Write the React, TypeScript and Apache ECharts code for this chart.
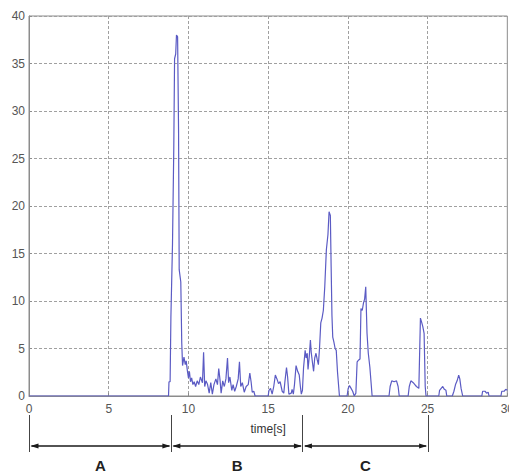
import React, { useEffect, useRef } from "react";
import * as echarts from "echarts";

const times: number[] = [
  0, 8.75, 8.78, 8.85, 8.9, 9.0, 9.08, 9.13, 9.2, 9.25, 9.32, 9.38, 9.42, 9.52, 9.58, 9.63, 9.72, 9.8, 9.86, 9.93,
  10.0, 10.06, 10.13, 10.2, 10.28, 10.36, 10.45, 10.55, 10.65, 10.75, 10.88, 10.95, 11.02, 11.1, 11.2, 11.3, 11.4, 11.5, 11.6, 11.72,
  11.82, 11.9, 11.98, 12.05, 12.15, 12.25, 12.35, 12.45, 12.52, 12.6, 12.72, 12.8, 12.9, 13.0, 13.12, 13.2, 13.28, 13.38, 13.5, 13.62,
  13.75, 13.85, 13.93, 14.0, 14.1, 14.18, 15.0, 15.05, 15.15, 15.25, 15.35, 15.45, 15.55, 15.65, 15.75, 15.88, 15.98, 16.05, 16.15, 16.22,
  16.3, 16.45, 16.5, 16.58, 16.65, 16.75, 16.85, 16.95, 17.02, 17.08, 17.15, 17.22, 17.32, 17.38, 17.45, 17.5, 17.58, 17.65, 17.7, 17.78,
  17.85, 17.92, 18.0, 18.08, 18.15, 18.22, 18.3, 18.38, 18.46, 18.55, 18.65, 18.75, 18.82, 18.9, 18.95, 19.0, 19.05, 19.12, 19.2, 19.27,
  19.35, 19.47, 19.95, 20.02, 20.1, 20.2, 20.3, 20.4, 20.5, 20.58, 20.68, 20.76, 20.82, 20.9, 20.98, 21.05, 21.12, 21.2, 21.28, 21.38,
  21.45, 21.52, 22.58, 22.65, 22.75, 22.9, 23.05, 23.15, 23.22, 23.78, 23.85, 23.95, 24.1, 24.2, 24.3, 24.45, 24.55, 24.62, 24.7, 24.78,
  24.85, 24.9, 25.7, 25.75, 25.85, 25.95, 26.05, 26.15, 26.2, 26.55, 26.65, 26.75, 26.85, 26.95, 27.02, 27.1, 27.2, 28.4, 28.45, 28.6,
  28.7, 28.8, 28.85, 29.6, 29.65, 29.8, 29.9, 30,
];

const values: number[] = [
  0, 0, 1.5, 1.5, 8.3, 16, 26, 35.5, 36, 38, 37.8, 28, 13.3, 12, 5.6, 3.2, 4.1, 3.3, 3.7, 2.7,
  1.9, 2.6, 1.5, 1.9, 1.2, 1.5, 1.0, 1.6, 1.2, 2.0, 1.4, 4.6, 1.0, 1.6, 1.2, 0.3, 1.4, 0.2, 1.2, 1.8,
  1.2, 2.9, 1.7, 0.3, 1.6, 1.0, 1.8, 4.0, 1.4, 2.0, 0.6, 1.2, 0.5, 1.0, 1.8, 3.6, 1.0, 1.4, 0.4, 1.0,
  1.2, 2.4, 1.5, 0.4, 0.5, 0, 0, 0.6, 0.8, 0.2, 1.0, 2.2, 1.8, 1.3, 1.5, 0.5, 0.3, 1.5, 3.0, 2.0,
  0.2, 0.3, 0.7, 0.2, 1.2, 3.2, 2.6, 2.2, 1.0, 0.2, 0.6, 3.0, 4.8, 4.0, 4.5, 2.8, 4.2, 5.9, 4.6, 3.5,
  2.6, 4.0, 4.5, 3.8, 3.3, 5.0, 7.7, 8.2, 9.0, 11.5, 15.4, 17.0, 19.4, 19.0, 13.6, 8.5, 6.2, 5.7, 5.0, 4.8,
  2.5, 0, 0, 0.8, 1.1, 0.8, 0.5, 0, 0.3, 3.6, 3.8, 3.9, 9.2, 9.0, 9.8, 10.2, 11.5, 6.6, 4.5, 3.0,
  1.5, 0, 0, 1.0, 1.6, 1.5, 1.6, 1.0, 0, 0, 1.0, 1.6, 1.4, 1.2, 1.0, 0.8, 8.2, 7.8, 7.3, 6.6,
  1.0, 0, 0, 0.6, 0.8, 1.0, 0.7, 0.6, 0, 0, 0.5, 1.2, 1.6, 2.2, 1.8, 0.8, 0, 0, 0.5, 0.5,
  0.3, 0.4, 0, 0, 0.5, 0.5, 0.7, 0.6,
];

const xTicks = [0, 5, 10, 15, 20, 25, 30];
const yTicks = [0, 5, 10, 15, 20, 25, 30, 35, 40];

const phaseBounds: number[] = [0, 8.9, 17.15, 25];
const phaseLabels: string[] = ["A", "B", "C"];
const xAxisTitle = "time[s]";

export default function App() {
  const ref = useRef<HTMLDivElement>(null);

  useEffect(() => {
    if (!ref.current) return;
    const chart = echarts.init(ref.current, undefined, { renderer: "svg" });
    const font = "'Liberation Sans', Arial, sans-serif";
    const gridColor = "#a0a0a0";
    chart.setOption({
      animation: false,
      backgroundColor: "#ffffff",
      grid: {
        left: 29,
        right: 6,
        top: 16,
        bottom: 76,
        show: true,
        borderColor: "#8c8c8c",
        borderWidth: 1,
      },
      xAxis: {
        type: "value",
        min: xTicks[0],
        max: xTicks[xTicks.length - 1],
        interval: 5,
        name: xAxisTitle,
        nameLocation: "middle",
        nameGap: 27,
        nameTextStyle: { fontFamily: font, fontSize: 12, color: "#333" },
        axisLine: { show: true, lineStyle: { color: "#8c8c8c" } },
        axisTick: { show: true, inside: true, length: 3, lineStyle: { color: "#8c8c8c" } },
        axisLabel: { fontFamily: font, fontSize: 12, color: "#555", margin: 7 },
        splitLine: { show: true, lineStyle: { color: gridColor, type: [3, 2], width: 1 } },
      },
      yAxis: {
        type: "value",
        min: yTicks[0],
        max: yTicks[yTicks.length - 1],
        interval: 5,
        axisLine: { show: true, lineStyle: { color: "#8c8c8c" } },
        axisTick: { show: true, inside: true, length: 3, lineStyle: { color: "#8c8c8c" } },
        axisLabel: { fontFamily: font, fontSize: 12, color: "#555", margin: 4 },
        splitLine: { show: true, lineStyle: { color: gridColor, type: [3, 2], width: 1 } },
      },
      series: [
        {
          type: "line",
          data: times.map((t, i) => [t, values[i]]),
          showSymbol: false,
          symbol: "none",
          lineStyle: { color: "#5b5bc4", width: 1.2 },
          clip: true,
        },
      ],
    });

    const px = (t: number) => chart.convertToPixel({ xAxisIndex: 0 }, t) as number;
    const lineColor = "#1a1a1a";
    const arrowY = 446;
    const elements: any[] = [];
    phaseBounds.forEach((b) => {
      const x = Math.round(px(b)) + 0.5;
      elements.push({
        type: "line",
        shape: { x1: x, y1: 415, x2: x, y2: 452 },
        style: { stroke: "#444", lineWidth: 1 },
      });
    });
    for (let i = 0; i < phaseLabels.length; i++) {
      const x0 = px(phaseBounds[i]) + 0.5;
      const x1 = px(phaseBounds[i + 1]) + 0.5;
      elements.push({
        type: "line",
        shape: { x1: x0 + 2, y1: arrowY, x2: x1 - 2, y2: arrowY },
        style: { stroke: lineColor, lineWidth: 1.3 },
      });
      elements.push({
        type: "polygon",
        shape: { points: [[x0 + 1, arrowY], [x0 + 9, arrowY - 2.6], [x0 + 9, arrowY + 2.6]] },
        style: { fill: lineColor },
      });
      elements.push({
        type: "polygon",
        shape: { points: [[x1 - 1, arrowY], [x1 - 9, arrowY - 2.6], [x1 - 9, arrowY + 2.6]] },
        style: { fill: lineColor },
      });
      elements.push({
        type: "text",
        x: (x0 + x1) / 2,
        y: 465,
        style: {
          text: phaseLabels[i],
          fontFamily: font,
          fontSize: 15,
          fontWeight: "bold",
          fill: "#222",
          align: "center",
          verticalAlign: "middle",
        },
      });
    }
    chart.setOption({ graphic: elements });

    return () => chart.dispose();
  }, []);

  return <div ref={ref} style={{ width: 517, height: 472, marginLeft: -8, marginTop: -8 }} />;
}
